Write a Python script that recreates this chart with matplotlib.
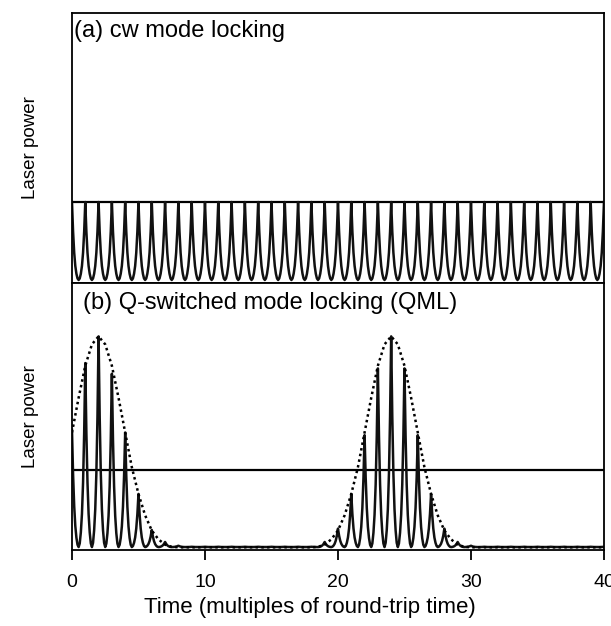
import matplotlib
matplotlib.use("Agg")
import matplotlib.pyplot as plt
import numpy as np

plt.rcParams["font.family"] = ["Liberation Sans", "DejaVu Sans"]

# one round trip of the pulse shape, peak -> trough -> next peak (12 samples)
PULSE_SHAPE = [1.0, 0.62, 0.35, 0.18, 0.08, 0.02, 0.0, 0.02, 0.08, 0.18, 0.35, 0.62]
BASE = 0.011

# peak power of each pulse at t = 0..40 round trips
cw_peaks = [0.30] * 41
qml_peaks = ([0.45, 0.70, 0.80, 0.66, 0.44, 0.21, 0.075, 0.03, 0.016]
             + [0.012] * 10
             + [0.03, 0.08, 0.21, 0.43, 0.68, 0.80, 0.68, 0.43, 0.21, 0.08, 0.03, 0.016]
             + [0.012] * 10)

# Q-switch envelope, sampled every half round trip from t = 0 to 40
env_burst1 = [0.44, 0.57, 0.69, 0.77, 0.80, 0.77, 0.69, 0.57, 0.44, 0.31,
              0.21, 0.13, 0.073, 0.04, 0.02, 0.012]
env_burst2 = [0.012, 0.02, 0.04, 0.073, 0.13, 0.21, 0.31, 0.44, 0.57, 0.69, 0.77,
              0.80, 0.77, 0.69, 0.57, 0.44, 0.31, 0.21, 0.13, 0.073, 0.04, 0.02, 0.012]
envelope = env_burst1 + [0.01] * 21 + env_burst2 + [0.01] * 21

cw_level = 0.30
xticks = [0, 10, 20, 30, 40]


def pulse_train(peaks):
    n = len(PULSE_SHAPE)
    t, y = [], []
    for k in range(len(peaks) - 1):
        for j, s in enumerate(PULSE_SHAPE):
            a = peaks[k] if j < n // 2 else peaks[k + 1]
            t.append(k + j / n)
            y.append(BASE + (a - BASE) * s)
    t.append(len(peaks) - 1)
    y.append(peaks[-1])
    return t, y


fig = plt.figure(figsize=(6.11, 6.26), dpi=100)
ax1 = fig.add_axes([0.1178, 0.548, 0.8707, 0.431])
ax2 = fig.add_axes([0.1178, 0.1214, 0.8707, 0.4266])

for ax in (ax1, ax2):
    ax.set_xlim(0, 40)
    ax.set_ylim(0, 1)
    ax.set_yticks([])
    for sp in ax.spines.values():
        sp.set_linewidth(1.3)
    ax.axhline(cw_level, color="black", lw=1.6)

ax1.set_ylabel("Laser power", fontsize=13.5, labelpad=24)
ax2.set_ylabel("Laser power", fontsize=13.5, labelpad=24)

t, y = pulse_train(cw_peaks)
ax1.plot(t, y, color="#111111", lw=1.8)
ax1.set_xticks([])
ax1.text(0.003, 0.975, "(a) cw mode locking", transform=ax1.transAxes,
         fontsize=17, va="top", ha="left")

t, y = pulse_train(qml_peaks)
ax2.plot(t, y, color="#111111", lw=1.8)
env_t = np.arange(len(envelope)) * 0.5
ax2.plot(env_t, envelope, color="black", lw=1.8, ls=(0, (1, 1.3)))
ax2.text(0.02, 0.965, "(b) Q-switched mode locking (QML)", transform=ax2.transAxes,
         fontsize=17, va="top", ha="left")
ax2.set_xticks(xticks)
ax2.tick_params(axis="x", direction="out", length=7, width=1.3, labelsize=14, pad=10)
fig.text(310 / 611, 1 - 608 / 626, "Time (multiples of round-trip time)",
         fontsize=16, ha="center", va="center")

fig.savefig("out.png", dpi=100)
